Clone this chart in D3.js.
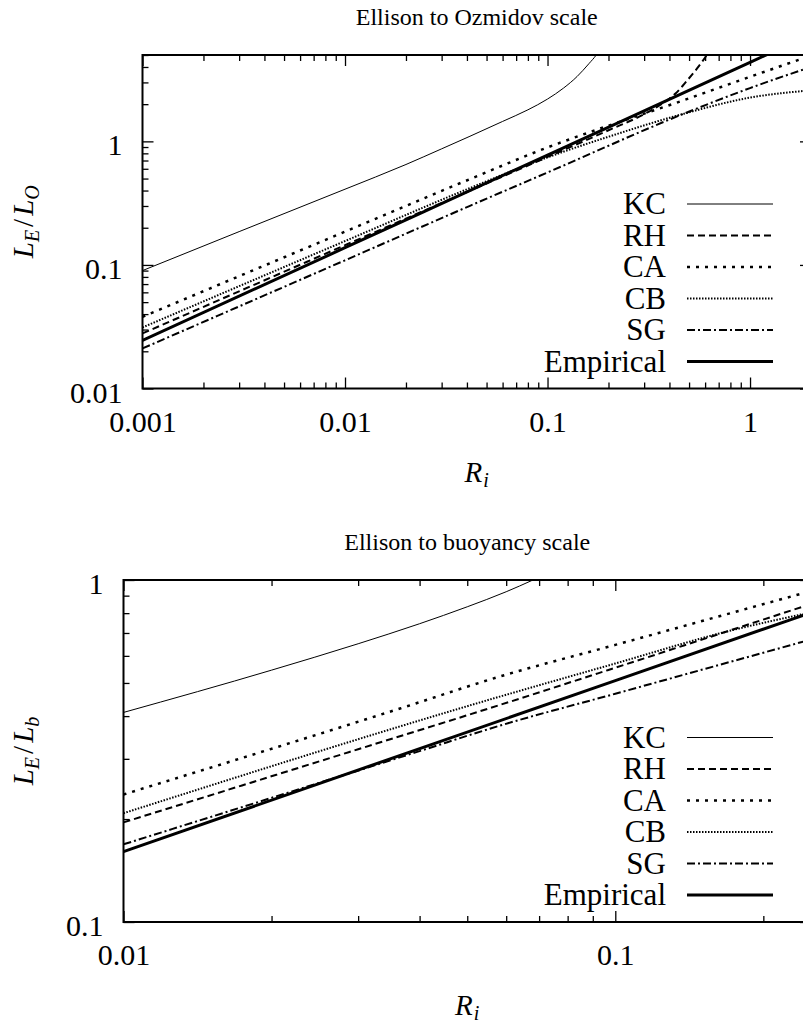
<!DOCTYPE html>
<html>
<head>
<meta charset="utf-8">
<script src="https://cdn.jsdelivr.net/npm/d3@7/dist/d3.min.js"></script>
<style>
  body { margin: 0; background: #fff; }
</style>
</head>
<body>
<script>
// Modelos de la leyenda, en orden
const models = ["KC", "RH", "CA", "CB", "SG", "Empirical"];

// Panel 1 : L_E / L_O en fonction de Ri  ([Ri, valeur])
const ozKC  = [[0.001, 0.090], [0.003, 0.186], [0.01, 0.41], [0.02, 0.65], [0.03, 0.87], [0.0414, 1.10],
               [0.06, 1.45], [0.08, 1.80], [0.1, 2.20], [0.12, 2.70], [0.14, 3.35], [0.16, 4.25],
               [0.174, 5.0], [0.19, 6.3]];
const ozRH  = [[0.001, 0.0279], [0.01, 0.1445], [0.0414, 0.399], [0.1, 0.748], [0.2, 1.23], [0.3, 1.66],
               [0.388, 2.14], [0.43, 2.45], [0.486, 3.07], [0.55, 3.93], [0.611, 5.0], [0.65, 6.0]];
const ozCA  = [[0.001, 0.038], [0.01, 0.186], [0.0414, 0.495], [0.1, 0.893], [0.2, 1.34], [0.402, 1.97],
               [1, 3.33], [2, 4.95]];
const ozCB  = [[0.001, 0.0312], [0.01, 0.156], [0.0414, 0.419], [0.1, 0.743], [0.2, 1.09], [0.469, 1.67],
               [1, 2.26], [2, 2.59]];
const ozSG  = [[0.001, 0.0211], [0.01, 0.109], [0.0414, 0.301], [0.1, 0.56], [0.469, 1.67], [1, 2.7], [2, 4.0]];
const ozEmp = [[0.001, 0.0245], [0.01, 0.1378], [0.1, 0.775], [1, 4.36], [2, 7.33]];

// Panel 2 : L_E / L_b en fonction de Ri
const bKC  = [[0.01, 0.41], [0.02, 0.545], [0.03, 0.651], [0.04, 0.745], [0.05, 0.835], [0.06, 0.924],
              [0.068, 1.0], [0.075, 1.069]];
const bRH  = [[0.01, 0.1956], [0.03, 0.32], [0.0582, 0.431], [0.1, 0.554], [0.168, 0.706], [0.25, 0.851]];
const bCA  = [[0.01, 0.236], [0.0365, 0.421], [0.0582, 0.522], [0.1, 0.646], [0.2405, 0.914], [0.25, 0.928]];
const bCB  = [[0.01, 0.208], [0.0582, 0.456], [0.1, 0.570], [0.168, 0.706], [0.25, 0.804]];
const bSG  = [[0.01, 0.1687], [0.04, 0.316], [0.0582, 0.375], [0.1, 0.465], [0.25, 0.670]];
const bEmp = [[0.01, 0.1606], [0.1, 0.508], [0.25, 0.803]];

// Graduations principales
const ozXTicks = [0.001, 0.01, 0.1, 1];
const ozYTicks = [0.01, 0.1, 1];
const bXTicks = [0.01, 0.1];
const bYTicks = [0.1, 1];

// Style de trait par modèle
const styles = {
    "KC":        { width: 1,   dash: null },
    "RH":        { width: 2,   dash: "7,4" },
    "CA":        { width: 2.5, dash: "3,6" },
    "CB":        { width: 2,   dash: "1.5,1.5" },
    "SG":        { width: 2,   dash: "8,3,2,3" },
    "Empirical": { width: 3,   dash: null }
};

const width = 803, height = 1027;
const FONT = '"Liberation Serif"';

const svg = d3.select("body").append("svg")
    .attr("width", width)
    .attr("height", height)
    .style("background", "#fff");

const panels = [
    {
        id: "oz", title: "Ellison to Ozmidov scale", ysub: "O",
        left: 142.5, right: 811, top: 55, bottom: 388.5,
        xDomain: [0.001, 2], yDomain: [0.01, 5],
        xTicks: ozXTicks, yTicks: ozYTicks,
        series: [ozKC, ozRH, ozCA, ozCB, ozSG, ozEmp]
    },
    {
        id: "b", title: "Ellison to buoyancy scale", ysub: "b",
        left: 123.5, right: 811, top: 580, bottom: 922,
        xDomain: [0.01, 0.25], yDomain: [0.1, 1],
        xTicks: bXTicks, yTicks: bYTicks,
        series: [bKC, bRH, bCA, bCB, bSG, bEmp]
    }
];

panels.forEach(drawPanel);

function drawPanel(p) {
    const x = d3.scaleLog().domain(p.xDomain).range([p.left, p.right]);
    const y = d3.scaleLog().domain(p.yDomain).range([p.bottom, p.top]);
    const isMajor = (list) => (t) => list.some(m => Math.abs(m - t) / m < 1e-6);

    const minorX = x.ticks().filter(t => !isMajor(p.xTicks)(t));
    const minorY = y.ticks().filter(t => !isMajor(p.yTicks)(t));

    // zone de tracé
    svg.append("clipPath").attr("id", "clip-" + p.id)
       .append("rect")
       .attr("x", p.left).attr("y", p.top)
       .attr("width", p.right - p.left).attr("height", p.bottom - p.top);

    const noDomain = g => g.select(".domain").remove();

    // graduations (toutes vers l'intérieur, comme gnuplot)
    const axes = [
        [d3.axisBottom(x), `translate(0,${p.bottom})`, p.xTicks, minorX, true],
        [d3.axisTop(x),    `translate(0,${p.top})`,    p.xTicks, minorX, false],
        [d3.axisLeft(y),   `translate(${p.left},0)`,   p.yTicks, minorY, true],
        [d3.axisRight(y),  `translate(${p.right},0)`,  p.yTicks, minorY, false]
    ];
    axes.forEach(([axis, tr, majors, minors, labelled], i) => {
        const horiz = i < 2;
        svg.append("g").attr("transform", tr)
           .call(axis.tickValues(minors).tickSizeInner(-6).tickSizeOuter(0).tickFormat(""))
           .call(noDomain)
           .selectAll("line").attr("stroke-width", 1.3);

        const gMaj = svg.append("g").attr("transform", tr)
           .call(axis.tickValues(majors).tickSizeInner(-11).tickSizeOuter(0)
                     .tickPadding(horiz ? 22 : 20)
                     .tickFormat(labelled ? d3.format("~g") : ""))
           .call(noDomain);
        gMaj.selectAll("line").attr("stroke-width", 1.3);
        gMaj.attr("font-family", null).attr("font-size", 30);
        gMaj.selectAll("text").attr("fill", "#000").style("font-family", FONT);
        if (!horiz) gMaj.selectAll("text").attr("dy", "0.45em");
    });

    // cadre
    svg.append("rect")
       .attr("x", p.left).attr("y", p.top)
       .attr("width", p.right - p.left).attr("height", p.bottom - p.top)
       .attr("fill", "none").attr("stroke", "#000").attr("stroke-width", 2);

    // courbes
    const line = d3.line()
        .x(d => x(d[0]))
        .y(d => y(d[1]))
        .curve(d3.curveMonotoneX);

    const gLines = svg.append("g").attr("clip-path", `url(#clip-${p.id})`);
    p.series.forEach((s, i) => {
        const st = styles[models[i]];
        gLines.append("path")
            .datum(s)
            .attr("d", line)
            .attr("fill", "none")
            .attr("stroke", "#000")
            .attr("stroke-width", st.width)
            .attr("stroke-dasharray", st.dash);
    });

    // légende, ancrée en bas à droite
    const leg = svg.append("g");
    models.forEach((m, i) => {
        const ly = p.bottom - 27 - (models.length - 1 - i) * 31.5;
        const st = styles[m];
        leg.append("text")
           .attr("x", 666).attr("y", ly + 10)
           .attr("text-anchor", "end")
           .attr("font-size", 31)
           .style("font-family", FONT)
           .text(m);
        leg.append("line")
           .attr("x1", 687).attr("x2", 773)
           .attr("y1", ly).attr("y2", ly)
           .attr("stroke", "#000")
           .attr("stroke-width", st.width)
           .attr("stroke-dasharray", st.dash);
    });

    const cx = (p.left + p.right) / 2;
    const cy = (p.top + p.bottom) / 2;

    // titre
    svg.append("text")
       .attr("x", cx).attr("y", p.top - 30)
       .attr("text-anchor", "middle")
       .attr("font-size", 24)
       .style("font-family", FONT)
       .text(p.title);

    // titre de l'axe x : R_i
    const xl = svg.append("text")
       .attr("x", cx).attr("y", p.bottom + 93)
       .attr("text-anchor", "middle")
       .attr("font-size", 29).attr("font-style", "italic")
       .style("font-family", FONT);
    xl.append("tspan").text("R");
    xl.append("tspan").attr("dy", 5).attr("dx", 1).attr("font-size", 20).text("i");

    // titre de l'axe y : L_E / L_O ou L_E / L_b
    const yl = svg.append("text")
       .attr("transform", `translate(33,${cy}) rotate(-90)`)
       .attr("text-anchor", "middle")
       .attr("font-size", 29).attr("font-style", "italic")
       .style("font-family", FONT);
    yl.append("tspan").text("L");
    yl.append("tspan").attr("dy", 6).attr("font-size", 20).text("E");
    yl.append("tspan").attr("dy", -6).attr("dx", 3).attr("font-style", "normal").text("/");
    yl.append("tspan").attr("dx", 3).text("L");
    yl.append("tspan").attr("dy", 6).attr("font-size", 20).text(p.ysub);
}
</script>
</body>
</html>
